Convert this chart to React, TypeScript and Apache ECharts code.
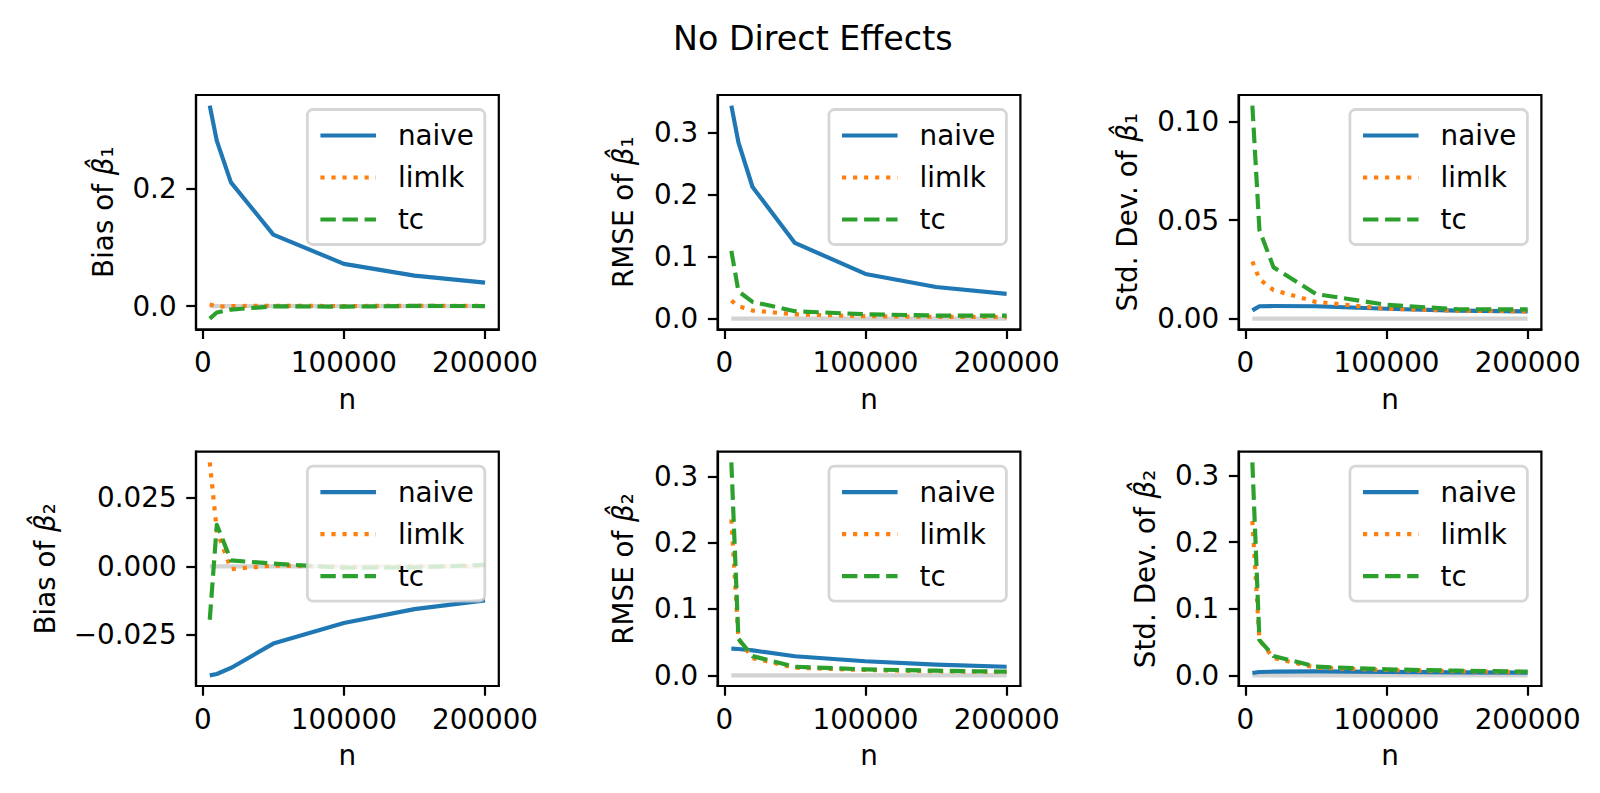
import React, { useEffect, useRef } from 'react';
import * as echarts from 'echarts';

// ---------- data ----------
const nValues = [5000, 10000, 20000, 50000, 100000, 150000, 200000];
const seriesNames = ['naive', 'limlk', 'tc'];
const xTicks = [0, 100000, 200000];
const titleText = 'No Direct Effects';

// Bias of beta1
const biasB1Naive = [0.342, 0.282, 0.211, 0.122, 0.072, 0.052, 0.040];
const biasB1Limlk = [0.003, -0.001, 0.0, 0.0005, 0.0, 0.0005, 0.0005];
const biasB1Tc = [-0.0215, -0.011, -0.006, -0.0005, -0.001, 0.0002, 0.0];
// RMSE of beta1
const rmseB1Naive = [0.343, 0.284, 0.212, 0.122, 0.072, 0.051, 0.040];
const rmseB1Limlk = [0.029, 0.020, 0.013, 0.007, 0.004, 0.003, 0.0025];
const rmseB1Tc = [0.109, 0.044, 0.027, 0.012, 0.007, 0.005, 0.005];
// Std. Dev. of beta1
const sdB1Naive = [0.0042, 0.0063, 0.0064, 0.0063, 0.005, 0.0041, 0.0037];
const sdB1Limlk = [0.029, 0.020, 0.0145, 0.0085, 0.005, 0.004, 0.0038];
const sdB1Tc = [0.108, 0.045, 0.026, 0.0125, 0.007, 0.0048, 0.0047];
// Bias of beta2
const biasB2Naive = [-0.0398, -0.0393, -0.0371, -0.0282, -0.0207, -0.0156, -0.0124];
const biasB2Limlk = [0.038, 0.013, -0.001, 0.0003, -0.0002, 0.0, 0.0001];
const biasB2Tc = [-0.0195, 0.0152, 0.0022, 0.001, -0.0005, -0.0004, 0.0006];
// RMSE of beta2
const rmseB2Naive = [0.0402, 0.0397, 0.0376, 0.0288, 0.0213, 0.0162, 0.013];
const rmseB2Limlk = [0.235, 0.055, 0.026, 0.0115, 0.008, 0.0062, 0.005];
const rmseB2Tc = [0.321, 0.055, 0.029, 0.013, 0.009, 0.007, 0.0055];
// Std. Dev. of beta2
const sdB2Naive = [0.0035, 0.005, 0.0055, 0.006, 0.0052, 0.0045, 0.004];
const sdB2Limlk = [0.232, 0.053, 0.026, 0.0115, 0.008, 0.0062, 0.005];
const sdB2Tc = [0.32, 0.053, 0.029, 0.013, 0.009, 0.007, 0.0055];

const ticksB1Bias = [0, 0.2];
const ticksB1Rmse = [0, 0.1, 0.2, 0.3];
const ticksB1Sd = [0, 0.05, 0.1];
const ticksB2Bias = [-0.025, 0, 0.025];
const ticksB2Rmse = [0, 0.1, 0.2, 0.3];
const ticksB2Sd = [0, 0.1, 0.2, 0.3];

// ---------- styling ----------
const FONT = 'DejaVu Sans';
const PT = 200 / 72;
const FS = 10 * PT;
const LW = 1.5 * PT;
const COLORS = ['#1f77b4', '#ff7f0e', '#2ca02c'];
const DASHES: any[] = ['solid', [1 * 1.5 * PT, 1.65 * 1.5 * PT], [3.7 * 1.5 * PT, 1.6 * 1.5 * PT]];
const GRID_LEFTS = [196, 717.6, 1238.6];
const GRID_TOPS = [95, 451.7];
const GRID_W = 302.8;
const GRID_H = 234.3;

const panels = [
  { prefix: 'Bias of ', sub: '₁', data: [biasB1Naive, biasB1Limlk, biasB1Tc], ticks: ticksB1Bias, dec: 1, gap: 79 },
  { prefix: 'RMSE of ', sub: '₁', data: [rmseB1Naive, rmseB1Limlk, rmseB1Tc], ticks: ticksB1Rmse, dec: 1, gap: 80 },
  { prefix: 'Std. Dev. of ', sub: '₁', data: [sdB1Naive, sdB1Limlk, sdB1Tc], ticks: ticksB1Sd, dec: 2, gap: 97 },
  { prefix: 'Bias of ', sub: '₂', data: [biasB2Naive, biasB2Limlk, biasB2Tc], ticks: ticksB2Bias, dec: 3, gap: 137 },
  { prefix: 'RMSE of ', sub: '₂', data: [rmseB2Naive, rmseB2Limlk, rmseB2Tc], ticks: ticksB2Rmse, dec: 1, gap: 80 },
  { prefix: 'Std. Dev. of ', sub: '₂', data: [sdB2Naive, sdB2Limlk, sdB2Tc], ticks: ticksB2Sd, dec: 1, gap: 79 },
];

function fmt(v: number, dec: number): string {
  const s = Math.abs(v).toFixed(dec);
  return v < 0 ? '\u2212' + s : s;
}

function buildOption() {
  const grid: any[] = [];
  const xAxis: any[] = [];
  const yAxis: any[] = [];
  const series: any[] = [];
  const legend: any[] = [];

  const xMinData = Math.min(...nValues);
  const xMaxData = Math.max(...nValues);
  const xPad = 0.05 * (xMaxData - xMinData);

  panels.forEach((p, i) => {
    const col = i % 3;
    const row = Math.floor(i / 3);
    const left = GRID_LEFTS[col];
    const top = GRID_TOPS[row];
    grid.push({
      left, top, width: GRID_W, height: GRID_H,
      show: true, borderColor: '#000', borderWidth: 0.8 * PT,
      backgroundColor: 'transparent', containLabel: false, outerBoundsMode: 'none',
    });
    const all = ([] as number[]).concat(...p.data, [0]);
    const lo = Math.min(...all);
    const hi = Math.max(...all);
    const pad = 0.05 * (hi - lo);
    const tickCommon = {
      show: true, inside: false, length: 3.5 * PT,
      lineStyle: { color: '#000', width: 0.8 * PT },
    };
    xAxis.push({
      type: 'value', gridIndex: i,
      min: xMinData - xPad, max: xMaxData + xPad,
      axisLine: { show: true, onZero: false, lineStyle: { color: '#000', width: 0.8 * PT } },
      axisTick: { ...tickCommon, customValues: xTicks },
      axisLabel: {
        show: true, customValues: xTicks, margin: 19.2,
        fontSize: FS, fontFamily: FONT, color: '#000',
        formatter: (v: number) => String(Math.round(v)),
      },
      splitLine: { show: false },
      name: 'n', nameLocation: 'middle', nameGap: 56,
      nameTextStyle: { fontSize: FS, fontFamily: FONT, color: '#000', lineHeight: FS },
    });
    yAxis.push({
      type: 'value', gridIndex: i,
      min: lo - pad, max: hi + pad,
      axisLine: { show: true, onZero: false, lineStyle: { color: '#000', width: 0.8 * PT } },
      axisTick: { ...tickCommon, customValues: p.ticks },
      axisLabel: {
        show: true, customValues: p.ticks, margin: 19.4,
        fontSize: FS, fontFamily: FONT, color: '#000',
        formatter: (v: number) => fmt(v, p.dec),
      },
      splitLine: { show: false },
      name: `{t|${p.prefix}}{b|β̂}{t|${p.sub}}`,
      nameLocation: 'middle', nameRotate: 90, nameGap: p.gap,
      nameTextStyle: {
        fontSize: FS, fontFamily: FONT, color: '#000', lineHeight: FS,
        rich: {
          t: { fontSize: FS, fontFamily: FONT, color: '#000', lineHeight: FS },
          b: { fontSize: FS, fontFamily: FONT, color: '#000', lineHeight: FS, fontStyle: 'italic' },
        },
      },
    });
    // zero reference line
    series.push({
      type: 'line', name: 'zero', xAxisIndex: i, yAxisIndex: i,
      data: [[xMinData, 0], [xMaxData, 0]],
      symbol: 'none', silent: true,
      lineStyle: { color: '#d3d3d3', width: LW, type: 'solid' },
      itemStyle: { color: '#d3d3d3' },
    });
    p.data.forEach((vals, k) => {
      series.push({
        type: 'line', name: seriesNames[k], xAxisIndex: i, yAxisIndex: i,
        data: nValues.map((n, j) => [n, vals[j]]),
        symbol: 'none', showSymbol: false,
        lineStyle: { color: COLORS[k], width: LW, type: DASHES[k], cap: 'butt', join: 'round' },
        itemStyle: { color: COLORS[k] },
      });
    });
    legend.push({
      data: seriesNames.map((name, k) => ({
        name,
        itemStyle: { opacity: 0 },
        lineStyle: { color: COLORS[k], width: LW, type: DASHES[k], cap: 'butt' },
      })),
      orient: 'vertical', selectedMode: false,
      right: 1600 - (left + GRID_W) + 14, top: top + 14.5,
      itemWidth: 2 * FS, itemHeight: 14, itemGap: 14,
      padding: [12, 11, 11, 11],
      backgroundColor: 'rgba(255,255,255,0.8)',
      borderColor: 'rgba(204,204,204,0.8)', borderWidth: 1 * PT, borderRadius: 5.6,
      itemStyle: { opacity: 0 },
      lineStyle: { width: LW },
      textStyle: {
        fontSize: FS, fontFamily: FONT, color: '#000', lineHeight: 28,
        padding: [0, 0, 0, 17],
      },
    });
  });

  return {
    animation: false,
    backgroundColor: '#fff',
    title: {
      text: titleText, left: 668, top: 17,
      textStyle: { fontSize: 12 * PT, fontFamily: FONT, fontWeight: 'normal', color: '#000', lineHeight: 12 * PT },
    },
    grid, xAxis, yAxis, series, legend,
  };
}

export default function App() {
  const ref = useRef<HTMLDivElement>(null);
  useEffect(() => {
    if (!ref.current) return;
    const chart = echarts.init(ref.current, null, { renderer: 'svg' });
    chart.setOption(buildOption() as any);
    return () => chart.dispose();
  }, []);
  return (
    <div
      ref={ref}
      style={{ position: 'fixed', left: 0, top: 0, width: '1600px', height: '793px', background: '#fff' }}
    />
  );
}
